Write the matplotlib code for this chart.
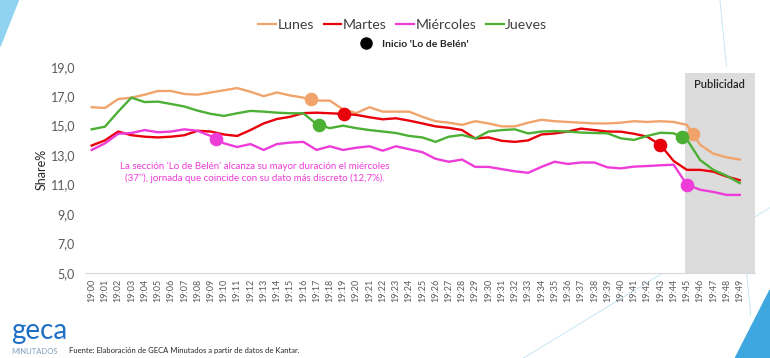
import matplotlib.pyplot as plt
from matplotlib.lines import Line2D
from matplotlib.patches import Polygon
import numpy as np

plt.rcParams['font.family'] = ['Lato', 'DejaVu Sans']

minutos = ['19:%02d' % m for m in range(50)]

lunes = [16.25, 16.2, 16.8, 16.9, 17.1, 17.35, 17.35, 17.15, 17.1, 17.25,
         17.4, 17.55, 17.3, 17.0, 17.25, 17.05, 16.9, 16.7, 16.7, 16.1,
         15.85, 16.25, 15.95, 15.95, 15.95, 15.6, 15.3, 15.2, 15.05, 15.3,
         15.15, 14.95, 14.95, 15.2, 15.4, 15.3, 15.25, 15.2, 15.15, 15.15,
         15.2, 15.3, 15.25, 15.3, 15.25, 15.05, 13.7, 13.1, 12.85, 12.7]
martes = [13.65, 14.0, 14.6, 14.35, 14.25, 14.2, 14.25, 14.35, 14.65, 14.6,
          14.4, 14.3, 14.7, 15.15, 15.45, 15.6, 15.85, 15.88, 15.84, 15.8,
          15.73, 15.57, 15.43, 15.5, 15.34, 15.15, 14.95, 14.85, 14.7, 14.13,
          14.2, 13.97, 13.9, 14.0, 14.4, 14.47, 14.6, 14.8, 14.7, 14.6,
          14.59, 14.45, 14.25, 13.69, 12.6, 12.0, 12.0, 11.88, 11.55, 11.3]
miercoles = [13.35, 13.8, 14.45, 14.5, 14.7, 14.55, 14.6, 14.75, 14.65, 14.3,
             13.8, 13.55, 13.75, 13.35, 13.75, 13.85, 13.9, 13.35, 13.6, 13.35,
             13.5, 13.6, 13.3, 13.6, 13.4, 13.2, 12.75, 12.55, 12.7, 12.2,
             12.2, 12.05, 11.9, 11.8, 12.2, 12.55, 12.4, 12.5, 12.5, 12.17,
             12.1, 12.22, 12.26, 12.31, 12.35, 11.0, 10.65, 10.5, 10.3, 10.3]
jueves = [14.75, 14.93, 15.95, 16.9, 16.6, 16.63, 16.47, 16.3, 16.02, 15.8,
          15.66, 15.84, 16.0, 15.95, 15.88, 15.84, 15.84, 15.1, 14.83, 15.0,
          14.83, 14.7, 14.6, 14.5, 14.3, 14.2, 13.9, 14.25, 14.37, 14.13,
          14.6, 14.7, 14.75, 14.47, 14.6, 14.63, 14.6, 14.53, 14.5, 14.48,
          14.14, 14.03, 14.3, 14.52, 14.48, 14.07, 12.67, 12.0, 11.6, 11.1]

# minuto (fraccional) de inicio de 'Lo de Belén' en cada día
inicio_lunes = [16.6, 45.45]
inicio_martes = [19.1, 43.0]
inicio_miercoles = [9.4, 45.0]
inicio_jueves = [17.2, 44.6]

series = [('Lunes', lunes, inicio_lunes, '#F0A46C'),
          ('Martes', martes, inicio_martes, '#E8000B'),
          ('Miércoles', miercoles, inicio_miercoles, '#EE3CD8'),
          ('Jueves', jueves, inicio_jueves, '#4CB035')]

fig = plt.figure(figsize=(7.7, 3.58), dpi=100)
ax = fig.add_axes([0.110, 0.2374, 0.8705, 0.5763])

x = np.arange(len(minutos))
ax.axvspan(44.85, 50.15, ymin=0, ymax=(18.6 - 5) / 14, color='#DCDCDC', zorder=0, lw=0)
ax.text(47.5, 17.8, 'Publicidad', ha='center', va='center', fontsize=8,
        color='#262626', fontweight='semibold')

handles = []
for nombre, vals, ini, col in series:
    ax.plot(x, vals, color=col, lw=1.7, solid_joinstyle='round', zorder=2)
    ax.plot(ini, np.interp(ini, x, vals), 'o', color=col, ms=8.8, zorder=3)
    handles.append(Line2D([], [], color=col, lw=1.6, label=nombre))

ax.set_xlim(-0.53, 50.15)
ax.set_ylim(5, 19)
ax.set_yticks(np.arange(5, 19.1, 2))
ax.yaxis.set_major_formatter(plt.FuncFormatter(lambda v, p: ('%.1f' % v).replace('.', ',')))
ax.set_xticks(x)
ax.set_xticklabels(minutos, rotation=90, fontsize=6.5, color='#595959')
ax.tick_params(axis='y', labelsize=9, colors='#595959', length=0, pad=7)
ax.tick_params(axis='x', length=0, pad=4)
for s in ['top', 'right', 'left']:
    ax.spines[s].set_visible(False)
ax.spines['bottom'].set_color('#D9D9D9')
ax.set_ylabel('Share%', fontsize=9, color='#262626', labelpad=2)

ax.text(12.3, 11.8, "La sección 'Lo de Belén' alcanza su mayor duración el miércoles\n"
        "(37’’), jornada que coincide con su dato más discreto (12,7%).",
        ha='center', va='center', fontsize=7.0, color='#EE3CD8', linespacing=1.3)

fig.legend(handles=handles, loc='center', bbox_to_anchor=(0.523, 0.93), ncol=4,
           frameon=False, fontsize=10.2, handlelength=1.25, handletextpad=0.1,
           columnspacing=0.7, labelcolor='#404040')
fig.legend(handles=[Line2D([], [], ls='', marker='o', color='black', ms=8,
                           label="Inicio 'Lo de Belén'")],
           loc='center', bbox_to_anchor=(0.535, 0.877), frameon=False,
           prop={'size': 7.5, 'weight': 'bold'}, handletextpad=0.6, labelcolor='#262626')

# decoración
fig.patches.append(Polygon([[0, 1], [0.024, 1], [0, 0.87]], closed=True,
                           transform=fig.transFigure, color='#8FD3F0', zorder=0))
fig.patches.append(Polygon([[1, 0], [0.955, 0], [1, 0.19]], closed=True,
                           transform=fig.transFigure, color='#3FA7E0', zorder=0))
fig.add_artist(Line2D([0.68, 1.0], [0.0, 0.42], transform=fig.transFigure,
                      color='#BFE3F2', lw=0.6, zorder=0))
fig.add_artist(Line2D([0.935, 0.975], [1.0, 0.12], transform=fig.transFigure,
                      color='#BFE3F2', lw=0.6, zorder=0))
fig.text(0.015, 0.04, 'geca', fontsize=20, color='#1F6FC5', ha='left', va='bottom')
fig.text(0.015, 0.008, 'MINUTADOS', fontsize=5.5, color='#7F9FBF', ha='left', va='bottom')
fig.text(0.089, 0.01, 'Fuente: Elaboración de GECA Minutados a partir de datos de Kantar.',
         fontsize=5.5, color='#262626', ha='left', va='bottom')

fig.savefig('out.png', dpi=100)
